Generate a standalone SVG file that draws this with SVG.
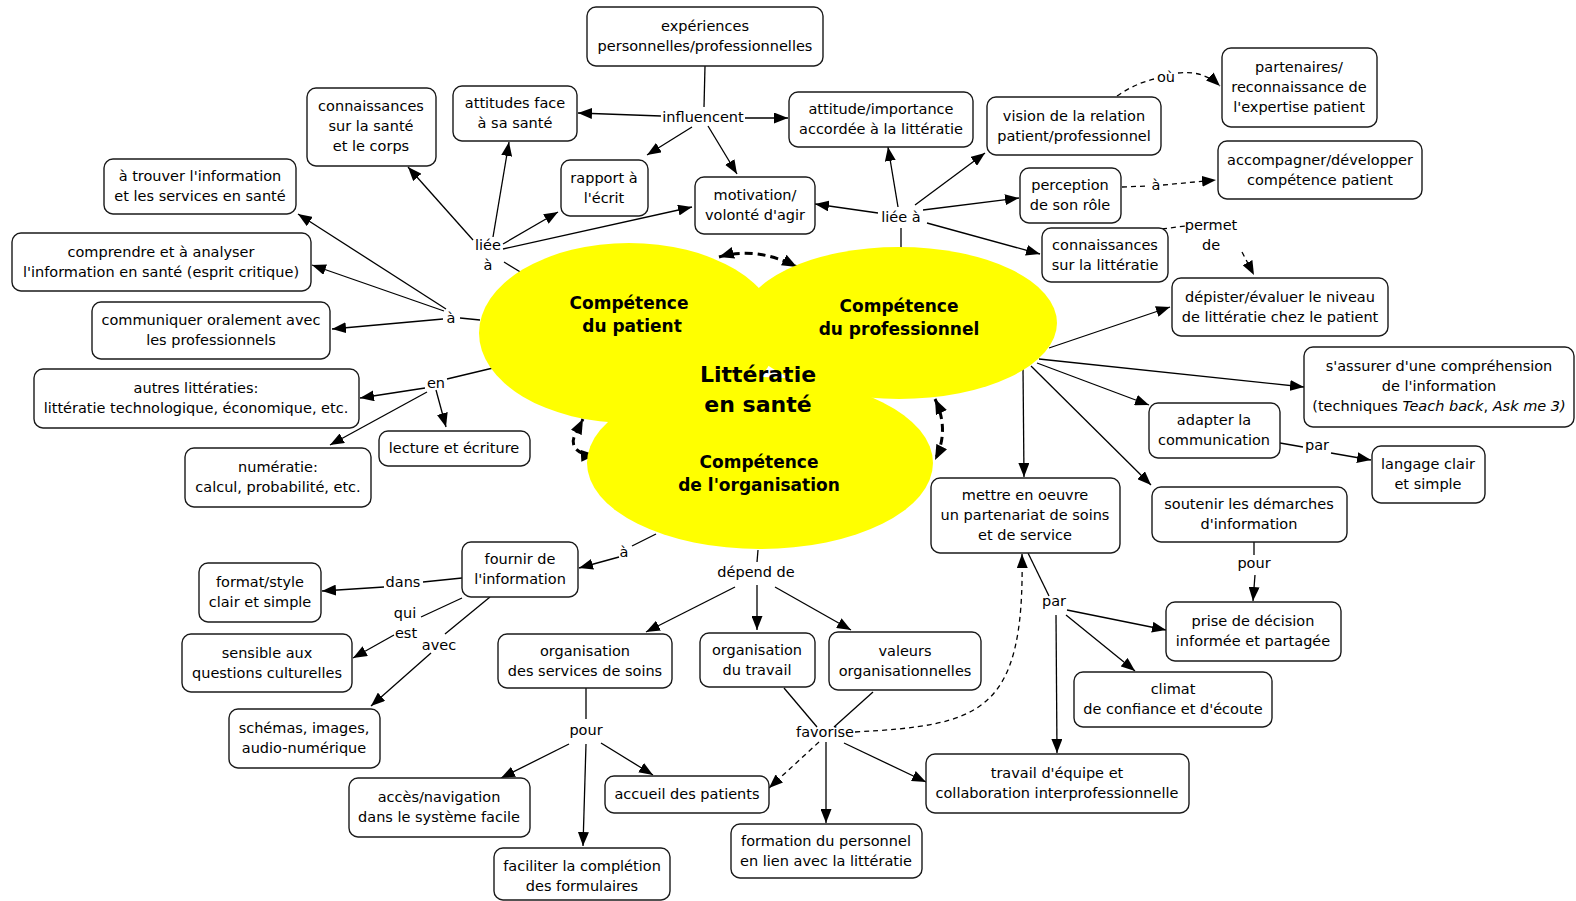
<svg xmlns="http://www.w3.org/2000/svg" width="1576" height="901" viewBox="0 0 1576 901">
  <defs>
    <marker id="arrow" viewBox="0 0 14 11" refX="14" refY="5.5" markerWidth="14" markerHeight="11" markerUnits="userSpaceOnUse" orient="auto-start-reverse">
      <path d="M0,0 L14,5.5 L0,11 z" fill="#000"/>
    </marker>
    <marker id="arrowBig" viewBox="0 0 15 12" refX="15" refY="6" markerWidth="15" markerHeight="12" markerUnits="userSpaceOnUse" orient="auto-start-reverse">
      <path d="M0,0 L15,6 L0,12 z" fill="#000"/>
    </marker>
    <style>
      .box { fill: #fff; stroke: #1a1a1a; stroke-width: 1.4; }
      .t { font-family: "DejaVu Sans", Verdana, sans-serif; font-size: 14.5px; text-anchor: middle; fill: #000; }
      .lbl { font-family: "DejaVu Sans", Verdana, sans-serif; font-size: 14.5px; text-anchor: middle; fill: #000; }
      .zone { fill: #ffff00; }
      .zt { font-family: "DejaVu Sans", Verdana, sans-serif; font-weight: bold; font-size: 17px; text-anchor: middle; fill: #000; }
      .main { font-family: "DejaVu Sans", Verdana, sans-serif; font-weight: bold; font-size: 22px; text-anchor: middle; fill: #000; }
      .ln { fill: none; stroke: #000; stroke-width: 1.3; }
      .arr { marker-end: url(#arrow); }
      .dash { stroke-dasharray: 5 4; }
      .bi { fill: none; stroke: #000; stroke-width: 3; stroke-dasharray: 8 5; marker-start: url(#arrowBig); marker-end: url(#arrowBig); }
      .it { font-style: italic; }
    </style>
  </defs>

  <rect width="1576" height="901" fill="#fff"/>

  <!-- connectors -->
  <g id="connectors">
    <!-- links between the three competence zones -->
    <path class="bi" d="M719,257 Q757,246 797,267"/>
    <path class="bi" d="M596,455 C578,456 569,446 575,435 L583,419"/>
    <path class="bi" d="M935,399 C945,420 945,440 935,460"/>

    <!-- patient: liée à -->
    <line class="ln" x1="522" y1="273" x2="504" y2="262"/>
    <line class="ln arr" x1="473" y1="240" x2="408" y2="167"/>
    <line class="ln arr" x1="493" y1="237" x2="509" y2="142"/>
    <line class="ln arr" x1="503" y1="244" x2="558" y2="212"/>
    <line class="ln arr" x1="503" y1="249" x2="692" y2="207"/>
    <!-- patient: à -->
    <line class="ln" x1="480" y1="320" x2="460" y2="318"/>
    <line class="ln arr" x1="446" y1="309" x2="298" y2="214"/>
    <line class="ln arr" x1="444" y1="311" x2="312" y2="265"/>
    <line class="ln arr" x1="443" y1="319" x2="332" y2="329"/>
    <!-- patient: en -->
    <line class="ln" x1="493" y1="368" x2="447" y2="379"/>
    <line class="ln arr" x1="425" y1="388" x2="360" y2="398"/>
    <line class="ln arr" x1="436" y1="390" x2="446" y2="427"/>
    <line class="ln arr" x1="427" y1="392" x2="330" y2="445"/>

    <!-- expériences: influencent -->
    <line class="ln" x1="705" y1="66" x2="704" y2="107"/>
    <line class="ln arr" x1="661" y1="116" x2="578" y2="113"/>
    <line class="ln arr" x1="745" y1="118" x2="788" y2="118"/>
    <line class="ln arr" x1="692" y1="127" x2="647" y2="155"/>
    <line class="ln arr" x1="708" y1="126" x2="737" y2="174"/>

    <!-- professionnel: liée à -->
    <line class="ln" x1="901" y1="248" x2="901" y2="228"/>
    <line class="ln arr" x1="898" y1="207" x2="888" y2="147"/>
    <line class="ln arr" x1="878" y1="213" x2="815" y2="204"/>
    <line class="ln arr" x1="915" y1="205" x2="985" y2="153"/>
    <line class="ln arr" x1="923" y1="210" x2="1019" y2="198"/>
    <line class="ln arr" x1="927" y1="223" x2="1040" y2="254"/>

    <!-- dashed: où / à / permet de -->
    <path class="ln dash" d="M1117,96 Q1134,84 1154,79"/>
    <path class="ln dash arr" d="M1178,73 Q1203,70 1220,86"/>
    <line class="ln dash" x1="1122" y1="187" x2="1148" y2="186"/>
    <line class="ln dash arr" x1="1163" y1="185" x2="1216" y2="180"/>
    <line class="ln dash" x1="1162" y1="229" x2="1185" y2="226"/>
    <line class="ln dash arr" x1="1242" y1="252" x2="1254" y2="275"/>

    <!-- professionnel: direct links -->
    <line class="ln arr" x1="1049" y1="348" x2="1170" y2="307"/>
    <line class="ln arr" x1="1039" y1="359" x2="1304" y2="387"/>
    <line class="ln arr" x1="1037" y1="363" x2="1149" y2="405"/>
    <line class="ln arr" x1="1031" y1="366" x2="1151" y2="485"/>
    <line class="ln arr" x1="1023" y1="368" x2="1024" y2="477"/>
    <line class="ln" x1="1280" y1="443" x2="1303" y2="447"/>
    <line class="ln arr" x1="1331" y1="453" x2="1371" y2="460"/>
    <line class="ln" x1="1254" y1="542" x2="1254" y2="555"/>
    <line class="ln arr" x1="1255" y1="575" x2="1253" y2="601"/>

    <!-- organisation: à -->
    <line class="ln" x1="656" y1="534" x2="632" y2="546"/>
    <line class="ln arr" x1="619" y1="557" x2="579" y2="568"/>
    <!-- fournir de l'information -->
    <line class="ln" x1="462" y1="578" x2="423" y2="582"/>
    <line class="ln arr" x1="384" y1="587" x2="322" y2="591"/>
    <line class="ln" x1="462" y1="598" x2="421" y2="617"/>
    <line class="ln arr" x1="394" y1="635" x2="353" y2="658"/>
    <line class="ln" x1="490" y1="597" x2="445" y2="634"/>
    <line class="ln arr" x1="431" y1="653" x2="371" y2="706"/>

    <!-- organisation: dépend de -->
    <line class="ln" x1="758" y1="550" x2="757" y2="562"/>
    <line class="ln arr" x1="735" y1="587" x2="646" y2="632"/>
    <line class="ln arr" x1="757" y1="585" x2="757" y2="630"/>
    <line class="ln arr" x1="775" y1="587" x2="851" y2="630"/>

    <!-- organisation des services: pour -->
    <line class="ln" x1="586" y1="688" x2="586" y2="719"/>
    <line class="ln arr" x1="569" y1="744" x2="501" y2="778"/>
    <line class="ln arr" x1="586" y1="744" x2="583" y2="846"/>
    <line class="ln arr" x1="601" y1="743" x2="653" y2="775"/>

    <!-- favorise -->
    <line class="ln" x1="784" y1="688" x2="817" y2="727"/>
    <line class="ln" x1="873" y1="692" x2="834" y2="727"/>
    <line class="ln dash arr" x1="819" y1="742" x2="769" y2="788"/>
    <line class="ln arr" x1="826" y1="742" x2="826" y2="823"/>
    <line class="ln arr" x1="844" y1="743" x2="926" y2="782"/>
    <path class="ln dash arr" d="M855,732 C980,725 1025,715 1022,554"/>

    <!-- mettre en oeuvre: par -->
    <line class="ln" x1="1028" y1="553" x2="1049" y2="596"/>
    <line class="ln arr" x1="1067" y1="610" x2="1166" y2="630"/>
    <line class="ln arr" x1="1066" y1="615" x2="1135" y2="671"/>
    <line class="ln arr" x1="1056" y1="615" x2="1057" y2="753"/>

    <!-- link phrases -->
    <text class="lbl" x="703" y="122">influencent</text>
    <text class="lbl" x="488" y="250">liée</text>
    <text class="lbl" x="488" y="270">à</text>
    <text class="lbl" x="451" y="323">à</text>
    <text class="lbl" x="436" y="388">en</text>
    <text class="lbl" x="901" y="222">liée à</text>
    <text class="lbl" x="1166" y="82">où</text>
    <text class="lbl" x="1156" y="190">à</text>
    <text class="lbl" x="1211" y="230">permet</text>
    <text class="lbl" x="1211" y="250">de</text>
    <text class="lbl" x="1317" y="450">par</text>
    <text class="lbl" x="1254" y="568">pour</text>
    <text class="lbl" x="1054" y="606">par</text>
    <text class="lbl" x="756" y="577">dépend de</text>
    <text class="lbl" x="825" y="737">favorise</text>
    <text class="lbl" x="586" y="735">pour</text>
    <text class="lbl" x="624" y="557">à</text>
    <text class="lbl" x="403" y="587">dans</text>
    <text class="lbl" x="405" y="618">qui</text>
    <text class="lbl" x="406" y="638">est</text>
    <text class="lbl" x="439" y="650">avec</text>
  </g>

  <!-- competence zones -->
  <g id="zones">
    <ellipse class="zone" cx="629" cy="333" rx="150" ry="90"/>
    <ellipse class="zone" cx="899" cy="323" rx="158" ry="76"/>
    <ellipse class="zone" cx="760" cy="463" rx="173" ry="86"/>
  </g>
  <g id="zone-patient">
    <text class="zt" x="629" y="309">Compétence</text>
    <text class="zt" x="632" y="332">du patient</text>
  </g>
  <g id="zone-professionnel">
    <text class="zt" x="899" y="312">Compétence</text>
    <text class="zt" x="899" y="335">du professionnel</text>
  </g>
  <g id="zone-organisation">
    <text class="zt" x="759" y="468">Compétence</text>
    <text class="zt" x="759" y="491">de l'organisation</text>
  </g>
  <g id="center">
    <text class="main" x="758" y="382">Littératie</text>
    <text class="main" x="758" y="412">en santé</text>
  </g>

  <!-- concept boxes -->
  <g id="n-experiences"><rect class="box" x="587" y="7" width="236" height="59" rx="9"/><text class="t" x="705" y="31">expériences</text><text class="t" x="705" y="51">personnelles/professionnelles</text></g>
  <g id="n-attitudes-sante"><rect class="box" x="453" y="86" width="124" height="55" rx="9"/><text class="t" x="515" y="108">attitudes face</text><text class="t" x="515" y="128">à sa santé</text></g>
  <g id="n-connaissances-sante"><rect class="box" x="307" y="88" width="129" height="78" rx="9"/><text class="t" x="371" y="111">connaissances</text><text class="t" x="371" y="131">sur la santé</text><text class="t" x="371" y="151">et le corps</text></g>
  <g id="n-trouver"><rect class="box" x="104" y="159" width="192" height="55" rx="9"/><text class="t" x="200" y="181">à trouver l'information</text><text class="t" x="200" y="201">et les services en santé</text></g>
  <g id="n-comprendre"><rect class="box" x="12" y="233" width="299" height="58" rx="9"/><text class="t" x="161" y="257">comprendre et à analyser</text><text class="t" x="161" y="277">l'information en santé (esprit critique)</text></g>
  <g id="n-communiquer"><rect class="box" x="92" y="302" width="238" height="57" rx="9"/><text class="t" x="211" y="325">communiquer oralement avec</text><text class="t" x="211" y="345">les professionnels</text></g>
  <g id="n-autres"><rect class="box" x="34" y="369" width="325" height="59" rx="9"/><text class="t" x="196" y="393">autres littératies:</text><text class="t" x="196" y="413">littératie technologique, économique, etc.</text></g>
  <g id="n-lecture"><rect class="box" x="379" y="431" width="151" height="35" rx="9"/><text class="t" x="454" y="453">lecture et écriture</text></g>
  <g id="n-numeratie"><rect class="box" x="185" y="448" width="186" height="59" rx="9"/><text class="t" x="278" y="472">numératie:</text><text class="t" x="278" y="492">calcul, probabilité, etc.</text></g>
  <g id="n-rapport"><rect class="box" x="561" y="160" width="87" height="56" rx="9"/><text class="t" x="604" y="183">rapport à</text><text class="t" x="604" y="203">l'écrit</text></g>
  <g id="n-motivation"><rect class="box" x="695" y="177" width="120" height="57" rx="9"/><text class="t" x="755" y="200">motivation/</text><text class="t" x="755" y="220">volonté d'agir</text></g>
  <g id="n-attitude-importance"><rect class="box" x="789" y="92" width="184" height="55" rx="9"/><text class="t" x="881" y="114">attitude/importance</text><text class="t" x="881" y="134">accordée à la littératie</text></g>
  <g id="n-vision"><rect class="box" x="987" y="97" width="174" height="58" rx="9"/><text class="t" x="1074" y="121">vision de la relation</text><text class="t" x="1074" y="141">patient/professionnel</text></g>
  <g id="n-perception"><rect class="box" x="1020" y="168" width="101" height="55" rx="9"/><text class="t" x="1070" y="190">perception</text><text class="t" x="1070" y="210">de son rôle</text></g>
  <g id="n-connaissances-litteratie"><rect class="box" x="1042" y="228" width="126" height="54" rx="9"/><text class="t" x="1105" y="250">connaissances</text><text class="t" x="1105" y="270">sur la littératie</text></g>
  <g id="n-partenaires"><rect class="box" x="1222" y="48" width="155" height="79" rx="9"/><text class="t" x="1299" y="72">partenaires/</text><text class="t" x="1299" y="92">reconnaissance de</text><text class="t" x="1299" y="112">l'expertise patient</text></g>
  <g id="n-accompagner"><rect class="box" x="1218" y="141" width="204" height="58" rx="9"/><text class="t" x="1320" y="165">accompagner/développer</text><text class="t" x="1320" y="185">compétence patient</text></g>
  <g id="n-depister"><rect class="box" x="1172" y="278" width="216" height="58" rx="9"/><text class="t" x="1280" y="302">dépister/évaluer le niveau</text><text class="t" x="1280" y="322">de littératie chez le patient</text></g>
  <g id="n-assurer"><rect class="box" x="1304" y="347" width="270" height="80" rx="9"/><text class="t" x="1439" y="371">s'assurer d'une compréhension</text><text class="t" x="1439" y="391">de l'information</text><text class="t" x="1439" y="411">(techniques <tspan class="it">Teach back</tspan>, <tspan class="it">Ask me 3)</tspan></text></g>
  <g id="n-adapter"><rect class="box" x="1149" y="403" width="131" height="55" rx="9"/><text class="t" x="1214" y="425">adapter la</text><text class="t" x="1214" y="445">communication</text></g>
  <g id="n-langage"><rect class="box" x="1372" y="446" width="113" height="57" rx="9"/><text class="t" x="1428" y="469">langage clair</text><text class="t" x="1428" y="489">et simple</text></g>
  <g id="n-soutenir"><rect class="box" x="1152" y="487" width="195" height="55" rx="9"/><text class="t" x="1249" y="509">soutenir les démarches</text><text class="t" x="1249" y="529">d'information</text></g>
  <g id="n-mettre"><rect class="box" x="931" y="478" width="189" height="75" rx="9"/><text class="t" x="1025" y="500">mettre en oeuvre</text><text class="t" x="1025" y="520">un partenariat de soins</text><text class="t" x="1025" y="540">et de service</text></g>
  <g id="n-prise"><rect class="box" x="1166" y="602" width="175" height="59" rx="9"/><text class="t" x="1253" y="626">prise de décision</text><text class="t" x="1253" y="646">informée et partagée</text></g>
  <g id="n-climat"><rect class="box" x="1074" y="672" width="198" height="55" rx="9"/><text class="t" x="1173" y="694">climat</text><text class="t" x="1173" y="714">de confiance et d'écoute</text></g>
  <g id="n-travail-equipe"><rect class="box" x="926" y="754" width="263" height="59" rx="9"/><text class="t" x="1057" y="778">travail d'équipe et</text><text class="t" x="1057" y="798">collaboration interprofessionnelle</text></g>
  <g id="n-formation"><rect class="box" x="731" y="824" width="191" height="54" rx="9"/><text class="t" x="826" y="846">formation du personnel</text><text class="t" x="826" y="866">en lien avec la littératie</text></g>
  <g id="n-accueil"><rect class="box" x="605" y="776" width="164" height="37" rx="9"/><text class="t" x="687" y="799">accueil des patients</text></g>
  <g id="n-org-travail"><rect class="box" x="700" y="633" width="115" height="54" rx="9"/><text class="t" x="757" y="655">organisation</text><text class="t" x="757" y="675">du travail</text></g>
  <g id="n-valeurs"><rect class="box" x="829" y="632" width="152" height="58" rx="9"/><text class="t" x="905" y="656">valeurs</text><text class="t" x="905" y="676">organisationnelles</text></g>
  <g id="n-org-services"><rect class="box" x="498" y="634" width="174" height="54" rx="9"/><text class="t" x="585" y="656">organisation</text><text class="t" x="585" y="676">des services de soins</text></g>
  <g id="n-acces"><rect class="box" x="349" y="778" width="181" height="59" rx="9"/><text class="t" x="439" y="802">accès/navigation</text><text class="t" x="439" y="822">dans le système facile</text></g>
  <g id="n-faciliter"><rect class="box" x="494" y="848" width="176" height="52" rx="9"/><text class="t" x="582" y="871">faciliter la complétion</text><text class="t" x="582" y="891">des formulaires</text></g>
  <g id="n-fournir"><rect class="box" x="462" y="542" width="116" height="55" rx="9"/><text class="t" x="520" y="564">fournir de</text><text class="t" x="520" y="584">l'information</text></g>
  <g id="n-format"><rect class="box" x="199" y="563" width="122" height="59" rx="9"/><text class="t" x="260" y="587">format/style</text><text class="t" x="260" y="607">clair et simple</text></g>
  <g id="n-sensible"><rect class="box" x="182" y="634" width="170" height="58" rx="9"/><text class="t" x="267" y="658">sensible aux</text><text class="t" x="267" y="678">questions culturelles</text></g>
  <g id="n-schemas"><rect class="box" x="229" y="709" width="151" height="59" rx="9"/><text class="t" x="304" y="733">schémas, images,</text><text class="t" x="304" y="753">audio-numérique</text></g>
</svg>
